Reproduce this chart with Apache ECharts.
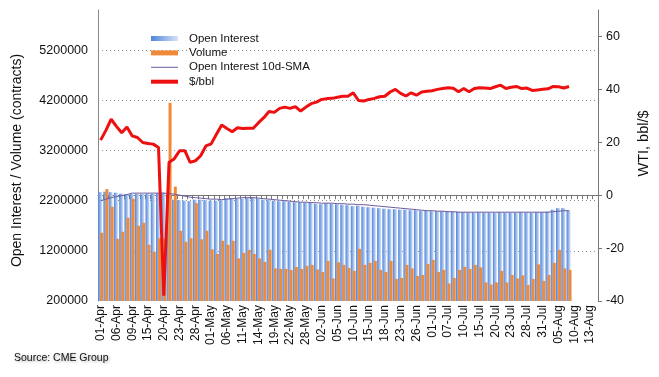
<!DOCTYPE html>
<html>
<head>
<meta charset="utf-8">
<script src="https://cdn.jsdelivr.net/npm/echarts@6.0.0/dist/echarts.min.js"></script>
<style>
  html, body { margin: 0; padding: 0; background: #fff; }
  #chart { width: 659px; height: 377px; }
</style>
</head>
<body>
<div id="chart"></div>
<script>
// trading days, 01-Apr to 14-Aug (data stops at 07-Aug)
const dates = [
  '01-Apr', '02-Apr', '03-Apr', '06-Apr', '07-Apr', '08-Apr', '09-Apr', '13-Apr', '14-Apr', '15-Apr',
  '16-Apr', '17-Apr', '20-Apr', '21-Apr', '22-Apr', '23-Apr', '24-Apr', '27-Apr', '28-Apr', '29-Apr',
  '30-Apr', '01-May', '04-May', '05-May', '06-May', '07-May', '08-May', '11-May', '12-May', '13-May',
  '14-May', '15-May', '18-May', '19-May', '20-May', '21-May', '22-May', '26-May', '27-May', '28-May',
  '29-May', '01-Jun', '02-Jun', '03-Jun', '04-Jun', '05-Jun', '08-Jun', '09-Jun', '10-Jun', '11-Jun',
  '12-Jun', '15-Jun', '16-Jun', '17-Jun', '18-Jun', '19-Jun', '22-Jun', '23-Jun', '24-Jun', '25-Jun',
  '26-Jun', '29-Jun', '30-Jun', '01-Jul', '02-Jul', '06-Jul', '07-Jul', '08-Jul', '09-Jul', '10-Jul',
  '13-Jul', '14-Jul', '15-Jul', '16-Jul', '17-Jul', '20-Jul', '21-Jul', '22-Jul', '23-Jul', '24-Jul',
  '27-Jul', '28-Jul', '29-Jul', '30-Jul', '31-Jul', '03-Aug', '04-Aug', '05-Aug', '06-Aug', '07-Aug',
  '10-Aug', '11-Aug', '12-Aug', '13-Aug', '14-Aug'
]

const openInterest = [
  2370000, 2380000, 2370000, 2360000, 2340000, 2330000, 2330000, 2340000, 2330000, 2340000,
  2340000, 2350000, 2360000, 2300000, 2220000, 2210000, 2200000, 2190000, 2220000, 2220000,
  2210000, 2200000, 2200000, 2210000, 2250000, 2250000, 2240000, 2240000, 2250000, 2260000,
  2240000, 2220000, 2210000, 2200000, 2190000, 2190000, 2180000, 2170000, 2170000, 2160000,
  2160000, 2140000, 2130000, 2150000, 2140000, 2130000, 2120000, 2110000, 2090000, 2100000,
  2080000, 2070000, 2060000, 2050000, 2040000, 2030000, 2030000, 2020000, 2020000, 2010000,
  2010000, 2000000, 2000000, 1990000, 1990000, 1990000, 1980000, 1980000, 1980000, 1970000,
  1960000, 1960000, 1970000, 1960000, 1960000, 1960000, 1970000, 1960000, 1960000, 1960000,
  1970000, 1960000, 1960000, 1970000, 1970000, 1980000, 2020000, 2050000, 2050000, 2000000
]

const volume = [
  1560000, 2430000, 2080000, 1440000, 1580000, 1860000, 2240000, 1700000, 1760000, 1320000,
  1180000, 1450000, 1450000, 4150000, 2480000, 1600000, 1380000, 1450000, 2150000, 1430000,
  1600000, 1230000, 1140000, 1400000, 1320000, 1400000, 1050000, 1160000, 1220000, 1140000,
  1050000, 980000, 1220000, 850000, 840000, 840000, 820000, 880000, 840000, 900000,
  920000, 830000, 780000, 1000000, 650000, 970000, 920000, 860000, 800000, 1240000,
  920000, 960000, 1000000, 820000, 780000, 1000000, 640000, 660000, 920000, 850000,
  700000, 720000, 940000, 1020000, 780000, 820000, 550000, 660000, 820000, 880000,
  840000, 920000, 870000, 570000, 530000, 570000, 800000, 570000, 720000, 650000,
  710000, 520000, 640000, 930000, 600000, 720000, 960000, 1220000, 850000, 820000
]

const oiSma = [
  2200000, 2230000, 2260000, 2280000, 2300000, 2320000, 2350000, 2350000, 2350000, 2350000,
  2350000, 2350000, 2350000, 2340000, 2330000, 2310000, 2290000, 2270000, 2260000, 2250000,
  2240000, 2230000, 2230000, 2220000, 2230000, 2240000, 2250000, 2260000, 2260000, 2260000,
  2250000, 2240000, 2230000, 2220000, 2210000, 2200000, 2190000, 2180000, 2170000, 2170000,
  2160000, 2160000, 2150000, 2150000, 2150000, 2140000, 2140000, 2130000, 2130000, 2120000,
  2120000, 2110000, 2100000, 2090000, 2080000, 2070000, 2060000, 2050000, 2040000, 2030000,
  2020000, 2010000, 2000000, 2000000, 1990000, 1990000, 1980000, 1980000, 1970000, 1970000,
  1970000, 1970000, 1970000, 1970000, 1970000, 1970000, 1970000, 1970000, 1970000, 1970000,
  1970000, 1970000, 1970000, 1970000, 1970000, 1970000, 1980000, 1990000, 2000000, 2000000
]

const wti = [
  20.8, 24.5, 28.7, 26.0, 23.6, 25.8, 22.4, 21.8, 19.9, 19.5,
  19.3, 18.0, -38.0, 12.4, 13.8, 16.8, 16.8, 12.4, 13.0, 14.9,
  18.6, 19.4, 23.0, 26.5, 25.2, 24.0, 25.5, 25.2, 25.3, 25.3,
  27.4, 29.3, 31.6, 31.3, 32.8, 33.3, 32.8, 33.5, 31.8, 33.3,
  34.6, 35.2, 36.2, 36.5, 36.6, 37.0, 37.4, 37.4, 38.7, 35.8,
  35.6, 36.2, 36.6, 37.2, 37.4, 39.0, 40.0, 38.5, 37.5, 38.7,
  37.8, 39.0, 39.3, 39.5, 40.0, 40.3, 40.6, 40.4, 39.1, 40.3,
  39.1, 40.3, 40.6, 40.5, 40.3, 41.0, 41.6, 40.3, 40.8, 41.1,
  40.3, 40.5, 39.6, 39.8, 40.0, 40.2, 41.1, 41.0, 40.5, 41.1
]

const font = '"Liberation Sans", Arial, sans-serif'

const chart = echarts.init(document.getElementById('chart'), null, { renderer: 'canvas' })

chart.setOption({
  animation: false,
  backgroundColor: '#fff',
  textStyle: { fontFamily: font },
  grid: { left: 98, right: 61, top: 10, bottom: 76 },
  legend: {
    orient: 'vertical',
    left: 149,
    top: 32,
    padding: 0,
    itemWidth: 27,
    itemHeight: 5,
    itemGap: 1.4,
    textStyle: { fontFamily: font, fontSize: 11.5, color: '#111', padding: [0, 0, 0, 6], lineHeight: 13 },
    data: [
      { name: 'Open Interest', icon: 'rect' },
      { name: 'Volume', icon: 'rect' },
      { name: 'Open Interest 10d-SMA', itemStyle: { opacity: 0 }, lineStyle: { width: 1 } },
      { name: '$/bbl', itemStyle: { opacity: 0 }, lineStyle: { width: 4 } },
    ],
  },
  xAxis: {
    type: 'category',
    data: dates,
    boundaryGap: true,
    axisLine: { lineStyle: { color: '#777' } },
    axisTick: { show: true, interval: 0, length: 4, lineStyle: { color: '#777' } },
    axisLabel: { interval: 2, rotate: 90, margin: 4, fontSize: 12, color: '#111', fontFamily: font },
    splitLine: { show: false },
  },
  yAxis: [
    {
      type: 'value',
      min: 200000,
      max: 6000000,
      interval: 1000000,
      name: 'Open Interest / Volume (contracts)',
      nameLocation: 'middle',
      nameGap: 74,
      nameTextStyle: { fontSize: 14, color: '#111', fontFamily: font, padding: [0, 10, 0, 0] },
      axisLine: { show: true, lineStyle: { color: '#888' } },
      axisTick: { show: false },
      axisLabel: {
        fontSize: 12.5,
        color: '#111',
        margin: 10,
        showMaxLabel: false,
        fontFamily: font,
        formatter: (v) => String(v),
      },
      splitLine: {
        show: true,
        showMinLine: false,
        showMaxLine: false,
        lineStyle: { color: '#8a8a8a', type: [1, 3], width: 1 },
      },
    },
    {
      type: 'value',
      min: -40,
      max: 70,
      interval: 20,
      position: 'right',
      name: 'WTI, bbl/$',
      nameLocation: 'middle',
      nameGap: 38,
      nameTextStyle: { fontSize: 14.5, color: '#111', fontFamily: font, padding: [0, 0, 0, 24] },
      axisLine: { show: true, lineStyle: { color: '#777' } },
      axisTick: { show: true, length: 4, lineStyle: { color: '#777' } },
      axisLabel: { fontSize: 12.5, color: '#111', margin: 8, showMaxLabel: false, fontFamily: font },
      splitLine: { show: false },
    },
  ],
  series: [
    {
      name: 'Open Interest',
      type: 'bar',
      data: openInterest,
      barWidth: 4,
      barGap: '-50%',
      itemStyle: {
        color: {
          type: 'linear', x: 0, y: 0, x2: 1, y2: 0,
          colorStops: [
            { offset: 0, color: '#4f84da' },
            { offset: 1, color: '#d6e3f6' },
          ],
        },
      },
    },
    {
      name: 'Volume',
      type: 'bar',
      data: volume,
      barWidth: 3,
      barGap: '-50%',
      itemStyle: { color: '#ef8a3b' },
    },
    {
      name: 'Open Interest 10d-SMA',
      type: 'line',
      data: oiSma,
      showSymbol: false,
      symbol: 'none',
      lineStyle: { color: '#6b5b9e', width: 1 },
      itemStyle: { color: '#6b5b9e' },
      z: 3,
    },
    {
      name: '$/bbl',
      type: 'line',
      yAxisIndex: 1,
      data: wti,
      showSymbol: false,
      symbol: 'none',
      lineStyle: { color: '#ee1010', width: 3 },
      itemStyle: { color: '#ee1010' },
      z: 4,
    },
  ],
  graphic: [
    {
      type: 'text',
      left: 14,
      top: 353,
      style: {
        text: 'Source: CME Group',
        font: '10.5px "Liberation Sans", Arial, sans-serif',
        fill: '#111',
        textShadowColor: 'rgba(0,0,0,0.35)',
        textShadowBlur: 3,
        textShadowOffsetX: 1,
        textShadowOffsetY: 1,
      },
    },
  ],
})
</script>
</body>
</html>
